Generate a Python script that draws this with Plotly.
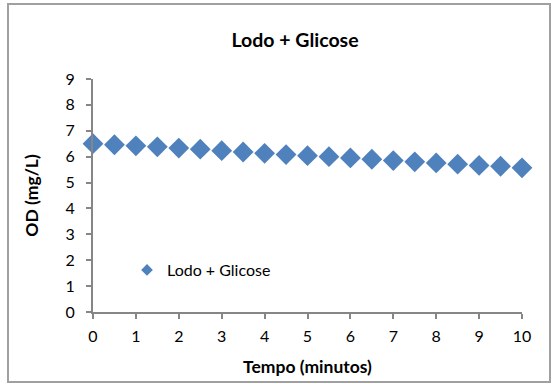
import plotly.graph_objects as go

# Dissolved oxygen over time, sludge + glucose
tempo = [0, 0.5, 1, 1.5, 2, 2.5, 3, 3.5, 4, 4.5, 5, 5.5, 6, 6.5, 7, 7.5, 8, 8.5, 9, 9.5, 10]
od = [6.50, 6.46, 6.42, 6.38, 6.33, 6.29, 6.23, 6.18, 6.13, 6.08, 6.04,
      6.00, 5.95, 5.90, 5.85, 5.80, 5.76, 5.71, 5.66, 5.63, 5.57]
serie = "Lodo + Glicose"
titulo = "Lodo + Glicose"
x_titulo = "Tempo (minutos)"
y_titulo = "OD (mg/L)"

FONT = "Lato, Carlito, Calibri, sans-serif"
AXIS_GRAY = "#868686"
BLUE = "#4F81BD"

fig = go.Figure()
fig.add_trace(go.Scatter(
    x=tempo, y=od, mode="markers", name=serie, showlegend=False,
    cliponaxis=False,
    marker=dict(symbol="diamond", size=16, color=BLUE, line=dict(width=0)),
))
# legend entry with a smaller key symbol
fig.add_trace(go.Scatter(
    x=[None], y=[None], mode="markers", name=serie, showlegend=True,
    marker=dict(symbol="diamond", size=9, color=BLUE, line=dict(width=0)),
))

# plot area spans x 93..522, y 79..312 px
L, R, T, B = 93, 30, 79, 72
W, H = 552, 384
pw, ph = W - L - R, H - T - B

def px_x(px):
    return (px - L) / pw

def px_y(py):
    return (H - B - py) / ph

axis_common = dict(
    tickmode="linear", tick0=0, dtick=1, automargin=False,
    showgrid=False, zeroline=False, showline=True,
    linecolor=AXIS_GRAY, linewidth=2,
    ticks="outside", ticklen=5, tickcolor=AXIS_GRAY, tickwidth=1.5,
    tickfont=dict(family=FONT, size=16),
)

fig.update_layout(
    width=W, height=H,
    margin=dict(l=L, r=R, t=T, b=B, autoexpand=False),
    paper_bgcolor="white", plot_bgcolor="white",
    font=dict(family=FONT, size=16, color="black"),
    title=dict(text="<b>" + titulo + "</b>", x=295 / W, y=1 - 40 / H,
               xanchor="center", yanchor="middle",
               font=dict(family=FONT, size=19.5, color="black")),
    showlegend=True,
    legend=dict(x=px_x(127), y=px_y(270), xanchor="left", yanchor="middle",
                bgcolor="rgba(0,0,0,0)", font=dict(family=FONT, size=16),
                itemwidth=30),
    xaxis=dict(range=[0, 10], ticklabelstandoff=4,
               title=dict(text="<b>" + x_titulo + "</b>", standoff=17,
                          font=dict(family=FONT, size=17.5)),
               **axis_common),
    yaxis=dict(range=[0, 9], ticklabelstandoff=8,
               title=dict(text="<b>" + y_titulo + "</b>", standoff=22,
                          font=dict(family=FONT, size=17.5)),
               **axis_common),
    shapes=[dict(type="rect", xref="paper", yref="paper",
                 x0=px_x(8), x1=px_x(550), y0=px_y(382), y1=px_y(4),
                 line=dict(color="#A0A0A0", width=2), layer="below")],
)

fig.write_html("out.html")
